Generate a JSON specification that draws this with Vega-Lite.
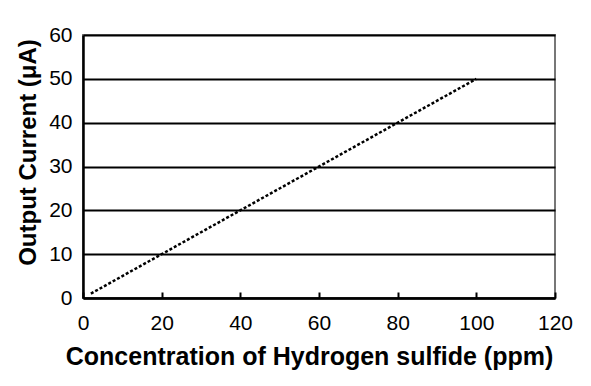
{
  "$schema": "https://vega.github.io/schema/vega-lite/v6.json",
  "width": 472,
  "height": 263,
  "autosize": "none",
  "padding": {"left": 83, "top": 35, "right": 36, "bottom": 88},
  "background": "white",
  "config": {
    "view": {"stroke": "#777777", "strokeWidth": 2},
    "font": "Liberation Sans"
  },
  "data": {"values": [
    {"ppm": 2, "current": 1},
    {"ppm": 100, "current": 50}
  ]},
  "mark": {"type": "line", "color": "black", "strokeWidth": 2.5, "strokeDash": [3, 2]},
  "encoding": {
    "x": {
      "field": "ppm", "type": "quantitative",
      "scale": {"domain": [0, 120], "nice": false},
      "axis": {
        "title": "Concentration of Hydrogen sulfide (ppm)",
        "values": [0, 20, 40, 60, 80, 100, 120],
        "grid": false,
        "domainColor": "black", "domainWidth": 2.5,
        "tickColor": "black", "tickWidth": 2, "tickSize": -6,
        "labelFont": "Liberation Sans", "labelFontSize": 21, "labelColor": "black",
        "labelPadding": 20, "labelFlush": false, "labelOverlap": false, "labelBound": false,
        "titleFont": "Liberation Sans", "titleFontSize": 25, "titleFontWeight": "bold", "titleColor": "black",
        "titlePadding": 11, "titleX": 226, "titleAlign": "center", "titleAnchor": null
      }
    },
    "y": {
      "field": "current", "type": "quantitative",
      "scale": {"domain": [0, 60], "nice": false},
      "axis": {
        "title": "Output Current (μA)",
        "values": [0, 10, 20, 30, 40, 50, 60],
        "grid": true, "gridColor": "black", "gridWidth": 2, "gridOpacity": 1,
        "domainColor": "black", "domainWidth": 2.5,
        "ticks": false,
        "labelFont": "Liberation Sans", "labelFontSize": 21, "labelColor": "black",
        "labelPadding": 11, "labelFlush": false, "labelOverlap": false, "labelBound": false,
        "titleFont": "Liberation Sans", "titleFontSize": 24, "titleFontWeight": "bold", "titleColor": "black",
        "titleAngle": 270, "titleAlign": "center", "titleBaseline": "middle",
        "titleX": -55, "titleY": 117
      }
    }
  }
}
